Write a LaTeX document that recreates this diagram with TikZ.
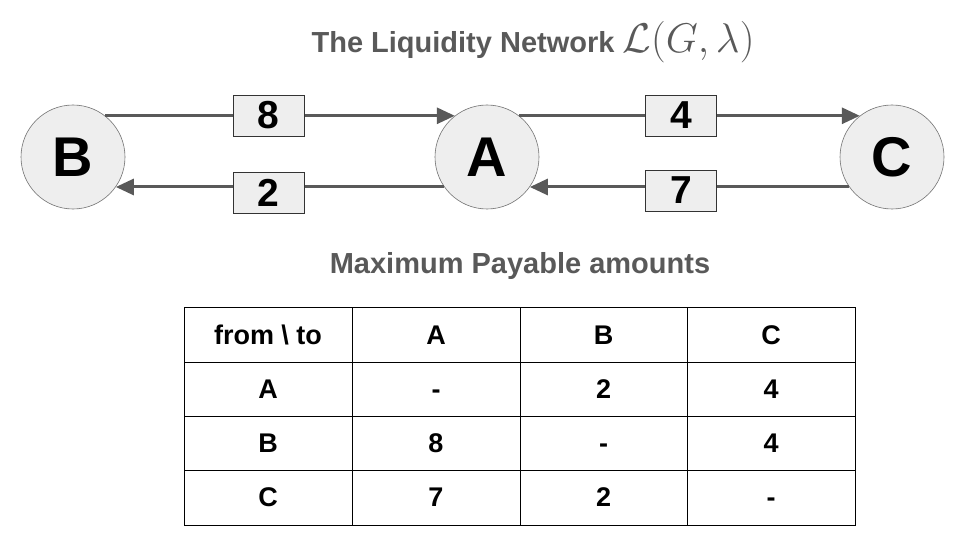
\documentclass[tikz,border=0pt]{standalone}
\usepackage{graphicx}
\usepackage{fontspec}
\setmainfont{Liberation Sans}
\usetikzlibrary{arrows.meta}
\definecolor{dgray}{HTML}{595959}
\definecolor{lfill}{HTML}{EEEEEE}
\begin{document}
\begin{tikzpicture}[x=1pt,y=-1pt,
  vertex/.style={circle,draw=black!55,line width=0.6pt,fill=lfill,minimum size=104pt,inner sep=0pt,font=\fontsize{56}{60}\selectfont\bfseries},
  wbox/.style={draw=black!80,line width=0.7pt,fill=lfill,minimum width=71pt,minimum height=41pt,inner sep=0pt,font=\fontsize{39}{42}\selectfont\bfseries},
  flow/.style={draw=dgray,line width=3pt,-{Triangle[length=18pt,width=16pt]}},
  title/.style={text=dgray,font=\fontsize{29}{34}\selectfont\bfseries,inner sep=0pt},
  cell/.style={font=\fontsize{27}{30}\selectfont\bfseries,inner sep=0pt,text height=20pt,text depth=0pt},
  grid/.style={draw=black,line width=0.8pt}]
\useasboundingbox (0,0) rectangle (960,540);
% title
\node[title,anchor=base] (t1) at (533,53) {The Liquidity Network {\fontsize{20}{24}\selectfont\scalebox{2}{$\mathcal{L}(G,\lambda)$}}};
% vertices
\node[vertex] (B) at (73,157) {B};
\node[vertex] (A) at (487,157) {A};
\node[vertex] (C) at (892,157) {C};
% connectors
\draw[flow] (B.52) -- (A.128);
\draw[flow] (A.52) -- (C.128);
\draw[flow] (A.-145) -- (B.-35);
\draw[flow] (C.-145) -- (A.-35);
% weights
\node[wbox] (w8) at (268.5,115.5) {8};
\node[wbox] (w4) at (681,115.5) {4};
\node[wbox] (w2) at (268.5,192.5) {2};
\node[wbox] (w7) at (681,190.5) {7};
% subtitle
\node[title,anchor=base] (t2) at (520,273) {Maximum Payable amounts};
% table grid
\draw[grid] (184,307) rectangle (855,525);
\foreach \y in {362,416,470} \draw[grid] (184,\y) -- (855,\y);
\foreach \x in {352,520,687} \draw[grid] (\x,307) -- (\x,525);
% table cells
\node[cell] (h0) at (268,334) {from \textbackslash{} to};
\node[cell] (h1) at (436,334) {A};
\node[cell] (h2) at (603.5,334) {B};
\node[cell] (h3) at (771,334) {C};
\node[cell] (r1) at (268,388) {A};
\node[cell] (r1a) at (436,388) {-};
\node[cell] (r1b) at (603.5,388) {2};
\node[cell] (r1c) at (771,388) {4};
\node[cell] (r2) at (268,442) {B};
\node[cell] (r2a) at (436,442) {8};
\node[cell] (r2b) at (603.5,442) {-};
\node[cell] (r2c) at (771,442) {4};
\node[cell] (r3) at (268,496.5) {C};
\node[cell] (r3a) at (436,496.5) {7};
\node[cell] (r3b) at (603.5,496.5) {2};
\node[cell] (r3c) at (771,496.5) {-};
\end{tikzpicture}
\end{document}
